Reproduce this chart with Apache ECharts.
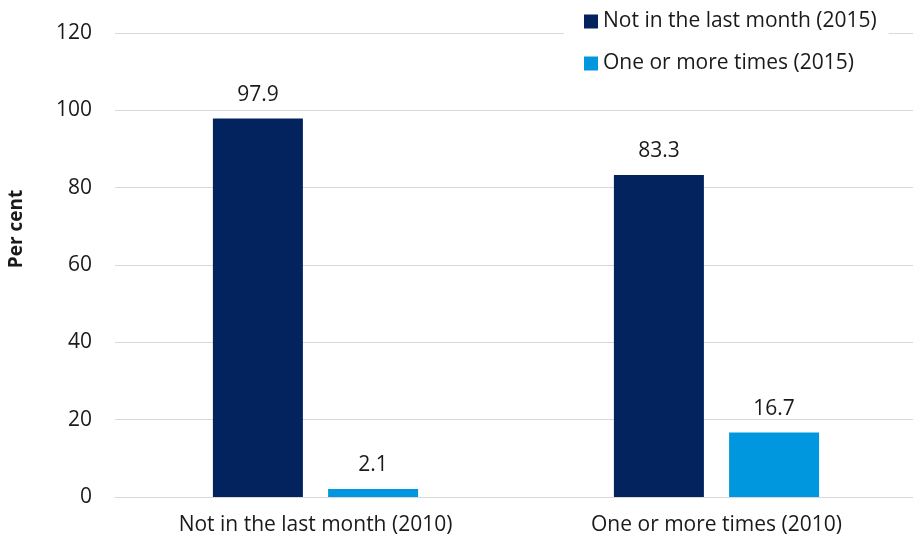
<!DOCTYPE html>
<html>
<head>
<meta charset="utf-8">
<script src="https://cdn.jsdelivr.net/npm/echarts@6/dist/echarts.min.js"></script>
<style>
  html, body { margin: 0; padding: 0; background: #fff; }
  #chart { width: 913px; height: 540px; }
</style>
</head>
<body>
<div id="chart"></div>
<script>
// data
const categories = ['Not in the last month (2010)', 'One or more times (2010)'];
const seriesNames = ['Not in the last month (2015)', 'One or more times (2015)'];
const notLastMonth2015 = [97.9, 83.3];
const oneOrMore2015 = [2.1, 16.7];
const yTicks = { min: 0, max: 120, interval: 20 };

const FONT = '"Open Sans", sans-serif';
const TXT = '#1a1a1a';

const chart = echarts.init(document.getElementById('chart'));

const barLabel = {
  show: true,
  position: 'top',
  distance: 13,
  color: TXT,
  fontSize: 21,
  fontFamily: FONT
};

chart.setOption({
  animation: false,
  textStyle: { fontFamily: FONT },
  grid: {
    left: 115,
    top: 33,
    width: 802,
    height: 464,
    outerBoundsMode: 'none'
  },
  legend: {
    orient: 'vertical',
    left: 564,
    top: 3,
    padding: [8, 12, 8, 20],
    backgroundColor: '#fff',
    itemWidth: 14,
    itemHeight: 14,
    itemGap: 21,
    icon: 'rect',
    textStyle: { color: TXT, fontSize: 21, fontFamily: FONT, lineHeight: 21 },
    data: seriesNames
  },
  xAxis: {
    type: 'category',
    data: categories,
    axisTick: { show: false },
    axisLine: { lineStyle: { color: '#d9d9d9', width: 1 } },
    axisLabel: { color: TXT, fontSize: 21, fontFamily: FONT, margin: 18 }
  },
  yAxis: {
    type: 'value',
    min: yTicks.min,
    max: yTicks.max,
    interval: yTicks.interval,
    name: 'Per cent',
    nameLocation: 'middle',
    nameGap: 89,
    nameTextStyle: { color: TXT, fontSize: 19, fontWeight: 'bold', fontFamily: FONT, padding: [0, 0, 0, 72] },
    axisLine: { show: false },
    axisTick: { show: false },
    axisLabel: { color: TXT, fontSize: 21, fontFamily: FONT, margin: 23 },
    splitLine: { lineStyle: { color: '#d9d9d9', width: 1 } }
  },
  series: [
    {
      name: seriesNames[0],
      type: 'bar',
      data: notLastMonth2015,
      barWidth: 90,
      barGap: '28%',
      itemStyle: { color: '#03235f' },
      label: barLabel
    },
    {
      name: seriesNames[1],
      type: 'bar',
      data: oneOrMore2015,
      barWidth: 90,
      barGap: '28%',
      itemStyle: { color: '#0097de' },
      label: barLabel
    }
  ]
});
</script>
</body>
</html>
